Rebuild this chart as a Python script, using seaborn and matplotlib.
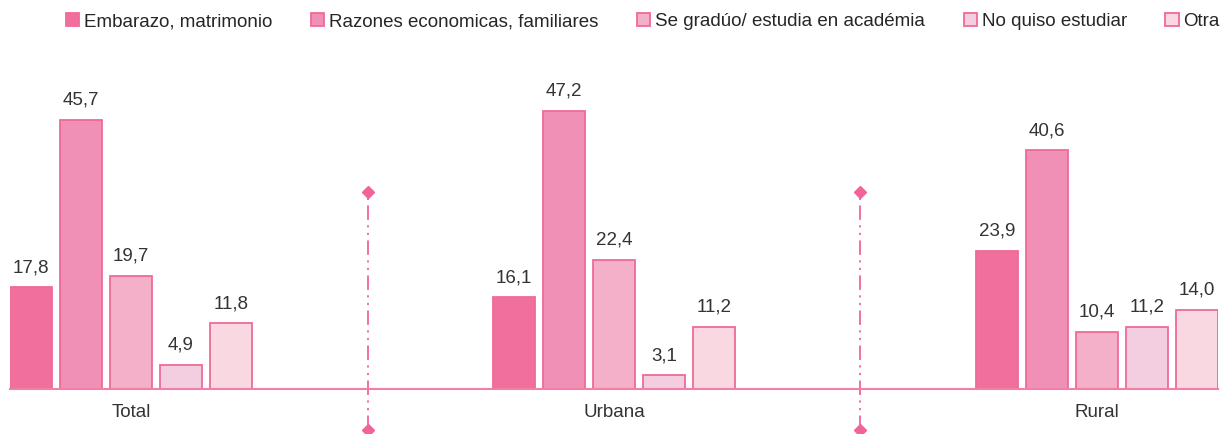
import matplotlib
matplotlib.use("Agg")
import matplotlib.pyplot as plt
import seaborn as sns
import pandas as pd

# data
areas = ["Total", "Urbana", "Rural"]
reasons = ["Embarazo, matrimonio", "Razones economicas, familiares",
           "Se gradúo/ estudia en académia", "No quiso estudiar", "Otra"]
embarazo = [17.8, 16.1, 23.9]
economicas = [45.7, 47.2, 40.6]
graduo = [19.7, 22.4, 10.4]
no_quiso = [4.9, 3.1, 11.2]
otra = [11.8, 11.2, 14.0]

colors = ["#F06F9C", "#F190B6", "#F4AFC9", "#F3CEE0", "#F9D8E2"]
edge = "#F06A99"
text_color = "#333333"

rows = []
for reason, vals in zip(reasons, [embarazo, economicas, graduo, no_quiso, otra]):
    for area, v in zip(areas, vals):
        rows.append({"area": area, "reason": reason, "value": v})
df = pd.DataFrame(rows)

sns.set_style("white")
plt.rcParams["font.family"] = ["Liberation Sans", "DejaVu Sans"]

fig = plt.figure(figsize=(12.31, 4.34), dpi=100)
ax = fig.add_axes([10 / 1231, 45 / 434, 1208 / 1231, 339 / 434])

sns.barplot(data=df, x="area", y="value", hue="reason", hue_order=reasons,
            palette=colors, width=0.518, gap=0.16, edgecolor=edge,
            linewidth=1.3, saturation=1, errorbar=None, ax=ax)

for cont in ax.containers:
    ax.bar_label(cont, labels=[f"{b.get_height():.1f}".replace(".", ",") for b in cont],
                 padding=8, fontsize=13.5, color=text_color)

ax.set_xlim(-0.2505, 2.2505)
ax.set_ylim(0.83, 57.3)
ax.set_xlabel("")
ax.set_ylabel("")
ax.set_yticks([])

for s in ["top", "right", "left"]:
    ax.spines[s].set_visible(False)
ax.spines["bottom"].set_color("#F27FA6")
ax.spines["bottom"].set_linewidth(1.5)

ax.set_xticks([0, 1, 2])
ax.set_xticklabels(areas, fontsize=13.5, color=text_color)
ax.tick_params(axis="x", which="major", length=0, pad=11)
ax.set_xticks([-0.25, 0.25, 0.75, 1.25, 1.75, 2.25], minor=True)
ax.tick_params(axis="x", which="minor", length=6, width=1.2, color="#F27FA6",
               direction="out")

# dash-dot-dot separators between groups
for xs in [0.49, 1.51]:
    ax.plot([xs, xs], [-6.0, 33.7], color="#F0649A", linewidth=1.3,
            dashes=(8, 3, 1.2, 3, 1.2, 3), clip_on=False)
    ax.plot([xs, xs], [-6.0, 33.7], linestyle="none", marker="D",
            markersize=6.5, color="#F0649A", clip_on=False)

sns.move_legend(ax, "center", bbox_to_anchor=(0.524, 1.083),
                ncol=5, frameon=False, title=None, fontsize=13.5,
                handlelength=0.7, handleheight=0.7, handletextpad=0.27,
                columnspacing=2.05, borderaxespad=0)

plt.savefig("out.png", dpi=100)
